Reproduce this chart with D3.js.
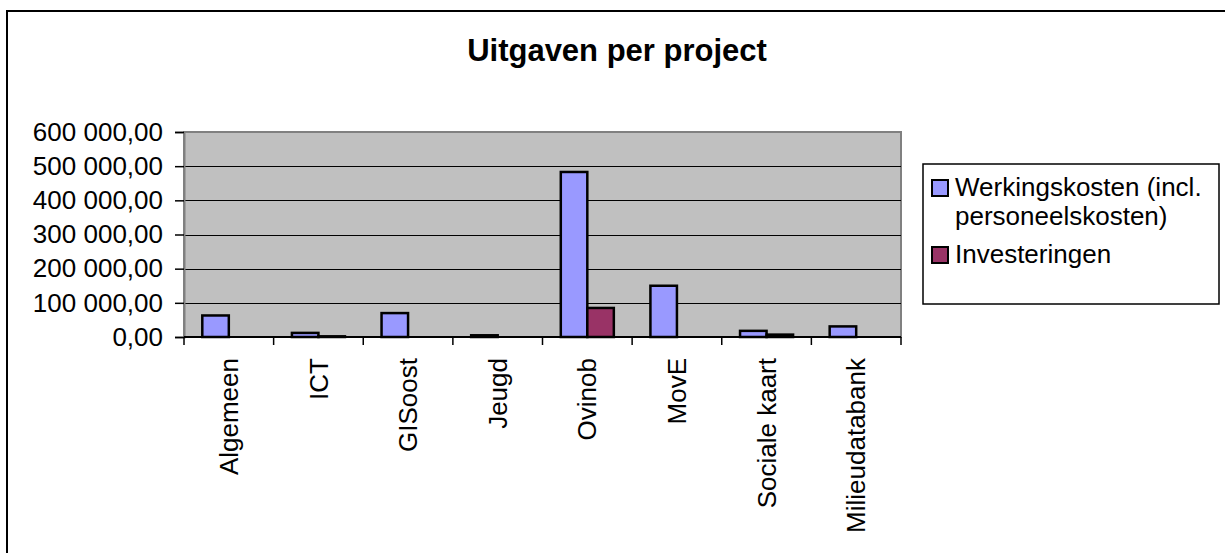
<!DOCTYPE html>
<html>
<head>
<meta charset="utf-8">
<script src="https://cdn.jsdelivr.net/npm/d3@7"></script>
<style>
  body { margin: 0; background: #fff; }
  text { font-family: "Liberation Sans", Arial, sans-serif; fill: #000; }
</style>
</head>
<body>
<svg id="chart" width="1225" height="553"></svg>
<script>
// chart data
var projects = ["Algemeen", "ICT", "GISoost", "Jeugd", "Ovinob", "MovE", "Sociale kaart", "Milieudatabank"];
var werkingskosten = [63000, 12000, 70000, 5000, 483000, 150000, 18000, 31000];
var investeringen = [0, 2000, 0, 0, 85000, 0, 7000, 0];
var seriesNames = ["Werkingskosten (incl.\npersoneelskosten)", "Investeringen"];
var seriesColors = ["#9999ff", "#993366"];
var yTicks = [0, 100000, 200000, 300000, 400000, 500000, 600000];

var svg = d3.select("#chart");

// outer chart border (cut off at the right and bottom)
svg.append("rect")
    .attr("x", 7).attr("y", 11)
    .attr("width", 1300).attr("height", 600)
    .attr("fill", "#fff")
    .attr("stroke", "#000")
    .attr("stroke-width", 2);

// title
svg.append("text")
    .attr("x", 617).attr("y", 61)
    .attr("text-anchor", "middle")
    .style("font-size", "31px")
    .style("font-weight", "bold")
    .text("Uitgaven per project");

var plot = { left: 184, top: 132, right: 901, bottom: 337 };

var x = d3.scaleBand()
    .domain(projects)
    .range([plot.left, plot.right]);

var xInner = d3.scaleBand()
    .domain([0, 1])
    .range([0, x.bandwidth()])
    .paddingOuter(0.69);

var y = d3.scaleLinear()
    .domain([0, 600000])
    .range([plot.bottom, plot.top]);

var nl = d3.formatLocale({ decimal: ",", thousands: " ", grouping: [3], currency: ["", ""] });
var fmt = nl.format(",.2f");

// plot area
svg.append("rect")
    .attr("x", plot.left).attr("y", plot.top)
    .attr("width", plot.right - plot.left)
    .attr("height", plot.bottom - plot.top)
    .attr("fill", "#c0c0c0")
    .attr("stroke", "#808080")
    .attr("stroke-width", 2);

// gridlines
svg.append("g")
    .selectAll("line")
    .data(yTicks.slice(1, -1))
    .join("line")
    .attr("x1", plot.left).attr("x2", plot.right)
    .attr("y1", function(d) { return Math.round(y(d)) + 0.5; })
    .attr("y2", function(d) { return Math.round(y(d)) + 0.5; })
    .attr("stroke", "#000")
    .attr("stroke-width", 1);

// y axis
var yAxis = svg.append("g")
    .attr("transform", "translate(" + plot.left + ",0)")
    .call(d3.axisLeft(y).tickValues(yTicks).tickSize(9).tickPadding(12).tickFormat(fmt));
yAxis.select(".domain").attr("stroke", "#808080").attr("stroke-width", 2);
yAxis.selectAll(".tick line").attr("stroke", "#000").attr("stroke-width", 1.5);
yAxis.selectAll("text")
    .style("font-size", "26px")
    .attr("fill", "#000");

// bars
var data = projects.map(function(p, i) {
    return { project: p, values: [werkingskosten[i], investeringen[i]] };
});

var groups = svg.append("g")
    .selectAll("g")
    .data(data)
    .join("g")
    .attr("transform", function(d) { return "translate(" + x(d.project) + ",0)"; });

groups.selectAll("rect")
    .data(function(d) { return d.values.map(function(v, k) { return { k: k, v: v }; }); })
    .join("rect")
    .filter(function(d) { return d.v > 0; })
    .attr("x", function(d) { return xInner(d.k); })
    .attr("width", xInner.bandwidth())
    .attr("y", function(d) { return y(d.v); })
    .attr("height", function(d) { return plot.bottom - y(d.v); })
    .attr("fill", function(d) { return seriesColors[d.k]; })
    .attr("stroke", "#000")
    .attr("stroke-width", 2.5);

// x axis
var xAxis = svg.append("g")
    .attr("transform", "translate(0," + plot.bottom + ")");
xAxis.append("line")
    .attr("x1", plot.left).attr("x2", plot.right)
    .attr("stroke", "#000").attr("stroke-width", 2);
var bounds = projects.map(function(p) { return x(p); }).concat([plot.right]);
xAxis.selectAll("line.tk")
    .data(bounds)
    .join("line")
    .attr("class", "tk")
    .attr("x1", function(d) { return d; }).attr("x2", function(d) { return d; })
    .attr("y1", 0).attr("y2", 8)
    .attr("stroke", "#000").attr("stroke-width", 1.5);
xAxis.selectAll("text")
    .data(projects)
    .join("text")
    .attr("transform", function(d) {
        return "translate(" + (x(d) + x.bandwidth() / 2) + ",21) rotate(-90)";
    })
    .attr("text-anchor", "end")
    .attr("dy", "0.35em")
    .style("font-size", "26px")
    .text(function(d) { return d; });

// legend
var legend = svg.append("g");
legend.append("rect")
    .attr("x", 923).attr("y", 164)
    .attr("width", 296).attr("height", 140)
    .attr("fill", "#fff")
    .attr("stroke", "#000")
    .attr("stroke-width", 1.5);

var legendY = [196, 263];
seriesNames.forEach(function(name, k) {
    legend.append("rect")
        .attr("x", 932).attr("y", legendY[k] - 16)
        .attr("width", 16).attr("height", 16)
        .attr("fill", seriesColors[k])
        .attr("stroke", "#000")
        .attr("stroke-width", 2);
    var t = legend.append("text")
        .attr("x", 955).attr("y", legendY[k])
        .style("font-size", "26px");
    name.split("\n").forEach(function(line, j) {
        t.append("tspan")
            .attr("x", 955)
            .attr("dy", j === 0 ? 0 : 29)
            .text(line);
    });
});
</script>
</body>
</html>
